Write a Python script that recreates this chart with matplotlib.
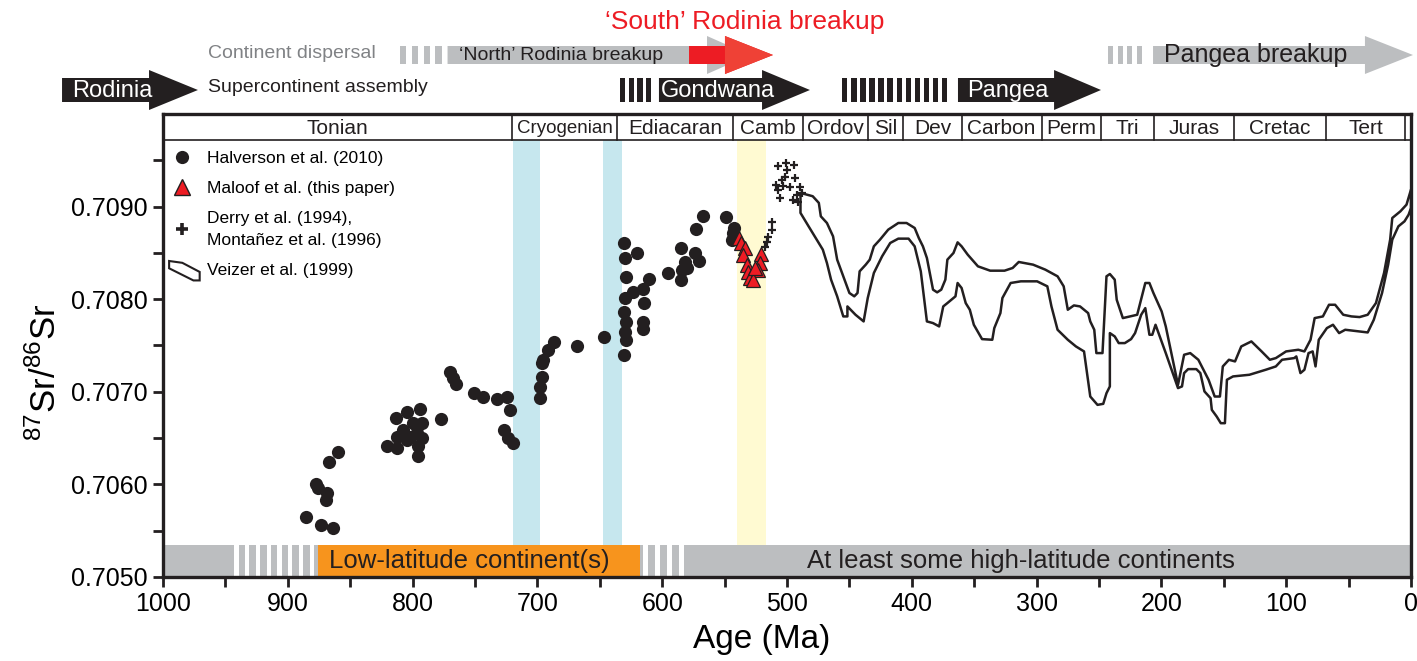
import matplotlib
matplotlib.use("Agg")
import matplotlib.pyplot as plt
import matplotlib.transforms as mtrans
from matplotlib.patches import Polygon, Rectangle
from matplotlib.legend_handler import HandlerPatch
from matplotlib.lines import Line2D
import numpy as np

plt.rcParams["font.family"] = ["Liberation Sans", "DejaVu Sans"]
plt.rcParams["mathtext.fontset"] = "custom"
plt.rcParams["mathtext.rm"] = "Liberation Sans"

# ---- data (Age in Ma, 87Sr/86Sr) ----
halv_age = [885.4, 873.6, 863.5, 877.6, 875.6, 868.3, 869.4, 866.7, 860.0,
            820.8, 812.7, 813.5, 804.7, 794.1, 792.7, 799.4, 807.5, 802.1, 796.7,
            792.7, 795.4, 795.4, 812.7, 804.7, 796.7,
            777.5, 770.0, 767.4, 765.5, 750.8, 743.8, 732.1, 724.6, 721.9, 726.8,
            723.3, 719.8,
            697.9, 697.9, 696.6, 696.6, 695.3, 691.3, 686.7, 668.3, 646.6,
            630.5, 629.8, 629.0, 630.2, 630.8, 629.4, 630.0, 628.8, 630.3,
            620.2, 610.6, 623.1, 615.7, 614.9, 615.7, 615.7,
            595.4, 584.9, 581.7, 584.1, 580.1, 584.9, 573.7, 570.5, 572.9, 567.3,
            548.9, 542.5, 544.1, 543.3]
halv_sr = [0.705645, 0.705562, 0.705526, 0.706005, 0.705959, 0.705905, 0.705832,
           0.706246, 0.706355,
           0.706419, 0.706391, 0.706716, 0.706787, 0.706813, 0.706668, 0.706662,
           0.706589, 0.706517, 0.706554, 0.706499, 0.706416, 0.706311, 0.706517,
           0.706481, 0.706625,
           0.706708, 0.707219, 0.707148, 0.707086, 0.706992, 0.706949, 0.706924,
           0.706949, 0.706805, 0.706589, 0.706499, 0.706445,
           0.706932, 0.707057, 0.707165, 0.707310, 0.707346, 0.707454, 0.707541,
           0.707497, 0.707595,
           0.708611, 0.708449, 0.708243, 0.708016, 0.707865, 0.707757, 0.707649,
           0.707562, 0.707400,
           0.708503, 0.708222, 0.708081, 0.708114, 0.707962, 0.707757, 0.707681,
           0.708286, 0.708557, 0.708405, 0.708319, 0.708341, 0.708211, 0.708503,
           0.708416, 0.708762, 0.708903,
           0.708892, 0.708773, 0.708643, 0.708719]

maloof_age = [538.5, 536.9, 533.7, 535.3, 532.1, 531.3, 529.6, 520.8, 521.6,
              523.2, 527.2, 525.5]
maloof_sr = [0.708665, 0.708610, 0.708557, 0.708481, 0.708373, 0.708297,
             0.708232, 0.708492, 0.708395, 0.708319, 0.708211, 0.708340]

derry_age = [507.2, 500.6, 494.2, 503.8, 501.4, 507.2, 505.4, 497.4, 489.6,
             487.7, 495.0, 490.9, 500.0, 493.6, 503.2, 492.0, 508.8,
             511.8, 511.8, 516.0, 515.0, 517.6]
derry_sr = [0.709443, 0.709476, 0.709454, 0.709292, 0.709324, 0.709184,
            0.709097, 0.709216, 0.709216, 0.709151, 0.709076, 0.709054,
            0.709400, 0.709314, 0.709227, 0.709130, 0.709238,
            0.708838, 0.708751, 0.708622, 0.708676, 0.708568]

# Veizer et al. (1999) envelope
veizer_up_age = [489.2, 479.4, 474.5, 472.9, 468.0, 463.1, 459.8, 454.9, 450.0,
                 446.1, 443.5, 441.8, 436.9, 433.7, 430.4, 425.5, 418.9, 410.8,
                 404.2, 397.7, 394.4, 391.1, 387.9, 383.0, 379.7, 376.4, 373.1,
                 371.5, 366.6, 363.3, 360.1, 355.2, 347.0, 337.2, 325.7, 319.2,
                 314.3, 302.8, 293.0, 283.2, 278.3, 275.0, 270.1, 265.2, 258.7,
                 257.0, 253.8, 252.1, 247.2, 244.0, 241.3, 237.4, 235.8, 230.9,
                 219.4, 212.9, 209.6, 206.4, 199.8, 196.5, 186.7, 181.8, 176.9,
                 170.4, 162.2, 157.3, 153.1, 150.8, 145.9, 141.0, 136.0, 127.9,
                 119.7, 113.1, 108.3, 100.1, 90.3, 85.4, 80.5, 77.2, 70.6, 65.7,
                 60.8, 54.3, 47.7, 41.2, 34.7, 28.1, 21.6, 16.7, 15.0, 8.5, 3.6,
                 0.0]
veizer_up_sr = [0.709148, 0.709112, 0.709040, 0.708895, 0.708823, 0.708679,
                0.708427, 0.708247, 0.708067, 0.708031, 0.708067, 0.708301,
                0.708373, 0.708427, 0.708571, 0.708643, 0.708751, 0.708823,
                0.708823, 0.708769, 0.708661, 0.708571, 0.708445, 0.708103,
                0.708074, 0.708103, 0.708211, 0.708427, 0.708499, 0.708614,
                0.708571, 0.708481, 0.708355, 0.708308, 0.708308, 0.708337,
                0.708402, 0.708373, 0.708319, 0.708247, 0.708139, 0.707886,
                0.707933, 0.707922, 0.707850, 0.707760, 0.707670, 0.707418,
                0.707418, 0.708247, 0.708272, 0.708211, 0.707994, 0.707796,
                0.707832, 0.708175, 0.708175, 0.708067, 0.707868, 0.707706,
                0.707075, 0.707400, 0.707418, 0.707346, 0.707130, 0.706949,
                0.706949, 0.707274, 0.707346, 0.707328, 0.707490, 0.707544,
                0.707436, 0.707346, 0.707364, 0.707436, 0.707454, 0.707436,
                0.707562, 0.707796, 0.707814, 0.707940, 0.707940, 0.707832,
                0.707814, 0.707807, 0.707832, 0.707958, 0.708283, 0.708643,
                0.708877, 0.708949, 0.709021, 0.709184]
veizer_lo_age = [489.2, 482.7, 471.3, 468.0, 464.7, 459.8, 454.9, 451.6, 451.6,
                 445.1, 438.6, 435.3, 430.4, 423.8, 417.3, 410.8, 402.6, 397.7,
                 392.8, 387.9, 383.0, 378.1, 374.8, 371.5, 365.0, 363.3, 360.1,
                 356.8, 353.5, 350.3, 343.7, 335.5, 333.9, 329.0, 327.4, 320.8,
                 312.6, 299.6, 291.4, 288.1, 283.2, 275.0, 268.5, 262.0, 257.0,
                 251.2, 246.6, 244.0, 241.3, 241.3, 237.4, 234.2, 229.3, 224.3,
                 221.1, 216.2, 212.9, 209.6, 207.3, 204.7, 196.5, 186.7, 183.5,
                 181.8, 178.6, 172.0, 168.8, 165.5, 160.6, 159.6, 155.7, 152.4,
                 149.1, 147.5, 142.6, 129.5, 116.4, 108.3, 103.3, 93.6, 91.9,
                 88.6, 85.4, 82.1, 78.8, 76.5, 73.9, 67.4, 62.5, 57.6, 52.7, 34.7,
                 29.8, 23.2, 18.3, 15.0, 10.1, 5.2, 1.9, 0.0]
veizer_lo_sr = [0.708932, 0.708787, 0.708535, 0.708391, 0.708211, 0.708031,
                0.707814, 0.707814, 0.707922, 0.707832, 0.707760, 0.708013,
                0.708283, 0.708463, 0.708607, 0.708654, 0.708654, 0.708571,
                0.708301, 0.707760, 0.707742, 0.707706, 0.707922, 0.707958,
                0.708031, 0.708175, 0.708121, 0.707958, 0.707886, 0.707724,
                0.707569, 0.707562, 0.707688, 0.707850, 0.708013, 0.708175,
                0.708193, 0.708193, 0.708139, 0.707922, 0.707670, 0.707562,
                0.707490, 0.707436, 0.706949, 0.706859, 0.706870, 0.706985,
                0.707058, 0.707634, 0.707598, 0.707526, 0.707526, 0.707569,
                0.707634, 0.707832, 0.707904, 0.707616, 0.707616, 0.707724,
                0.707418, 0.707040, 0.707058, 0.707202, 0.707245, 0.707245,
                0.707202, 0.707004, 0.706931, 0.706805, 0.706733, 0.706661,
                0.706661, 0.707130, 0.707166, 0.707184, 0.707238, 0.707274,
                0.707346, 0.707364, 0.707382, 0.707202, 0.707238, 0.707418,
                0.707436, 0.707274, 0.707562, 0.707688, 0.707724, 0.707634,
                0.707670, 0.707641, 0.707778, 0.708067, 0.708373, 0.708643,
                0.708787, 0.708841, 0.708913, 0.708985]

# geological periods (boundaries in Ma) for the top band
period_edges = [1000, 720, 636, 543, 487, 435, 407, 360, 296, 248, 206, 142, 68, 5, 0]
period_names = ["Tonian", "Cryogenian", "Ediacaran", "Camb", "Ordov", "Sil", "Dev",
                "Carbon", "Perm", "Tri", "Juras", "Cretac", "Tert", ""]

glaciations = [(719.6, 697.9), (647.4, 632.2)]
cambrian_window = (540.1, 516.8)

# paleolatitude bar along the bottom
lowlat_hatch = [(945, 876, 8), (618, 579, 4)]
lowlat_span = (876, 618)

BLACK = "#231f20"
GRAY = "#bcbec0"
DGRAY = "#808285"
ORANGE = "#f7941d"
RED = "#ed1c24"
LRED = "#ef4136"
BLUE = "#c6e7ee"
YELLOW = "#fffad2"

W, H = 1417, 661
fig = plt.figure(figsize=(W / 100, H / 100), dpi=100)
ax_l, ax_b, ax_w, ax_h = 163 / W, 84 / H, 1248 / W, 463 / H
ax = fig.add_axes([ax_l, ax_b, ax_w, ax_h])
ax.set_xlim(1000, 0)
ax.set_ylim(0.7050, 0.7100)

band_y0 = 0.944   # period band bottom (axes fraction)
bar_y1 = 0.069    # latitude bar top (axes fraction)
tr = mtrans.blended_transform_factory(ax.transData, ax.transAxes)

for a0, a1 in glaciations:
    ax.axvspan(a0, a1, ymin=bar_y1, ymax=band_y0, color=BLUE, lw=0, zorder=0)
ax.axvspan(*cambrian_window, ymin=bar_y1, ymax=band_y0, color=YELLOW, lw=0, zorder=0)

# Veizer envelope
env = np.column_stack([veizer_up_age + veizer_lo_age[::-1],
                       veizer_up_sr + veizer_lo_sr[::-1]])
ax.add_patch(Polygon(env, closed=True, fill=False, ec=BLACK, lw=1.8,
                     joinstyle="round", zorder=2))

ax.plot(halv_age, halv_sr, "o", color=BLACK, ms=9.5, mec="none", zorder=3)
ax.plot(derry_age, derry_sr, "+", color=BLACK, ms=5.5, mew=1.6, zorder=3)
ax.plot(maloof_age, maloof_sr, "^", mfc=RED, mec=BLACK, mew=0.9, ms=10, zorder=4)

# period band
ax.add_patch(Rectangle((0, band_y0), 1, 1 - band_y0, transform=ax.transAxes,
                       fc="white", ec="none", zorder=5))
ax.plot([0, 1], [band_y0, band_y0], transform=ax.transAxes, color=BLACK, lw=1.2, zorder=6)
for e in period_edges[1:-1]:
    ax.plot([e, e], [band_y0, 1], transform=tr, color=BLACK, lw=1.2, zorder=6)
for a0, a1, name in zip(period_edges[:-1], period_edges[1:], period_names):
    ax.text((a0 + a1) / 2, (band_y0 + 1) / 2 - 0.003, name, transform=tr,
            ha="center", va="center", fontsize=15 if len(name) < 10 else 13.5,
            color=BLACK, zorder=7)

# latitude bar
ax.add_patch(Rectangle((1000, 0), -1000, bar_y1, transform=tr, fc=GRAY, ec="none", zorder=5))
for a0, a1, n in lowlat_hatch:
    edges = np.linspace(a0, a1, n + 1)
    for e0, e1 in zip(edges[:-1], edges[1:]):
        ax.add_patch(Rectangle((e0 + (e1 - e0) * 0.25, 0), (e1 - e0) * 0.4, bar_y1,
                               transform=tr, fc="white", ec="none", zorder=6))
ax.add_patch(Rectangle((lowlat_span[0], 0), lowlat_span[1] - lowlat_span[0], bar_y1,
                       transform=tr, fc=ORANGE, ec="none", zorder=6))
ax.text(867, bar_y1 / 2, "Low-latitude continent(s)", transform=tr, ha="left",
        va="center", fontsize=18.5, color=BLACK, zorder=7)
ax.text(484, bar_y1 / 2, "At least some high-latitude continents", transform=tr,
        ha="left", va="center", fontsize=18.5, color=BLACK, zorder=7)

# axes styling
for s in ax.spines.values():
    s.set_linewidth(2.4)
    s.set_color(BLACK)
    s.set_zorder(8)
ax.set_xticks(np.arange(1000, -1, -100))
ax.set_xticks(np.arange(950, 0, -100), minor=True)
ax.set_yticks(np.arange(0.7050, 0.70901, 0.0010))
ax.set_yticks(np.arange(0.7055, 0.70960, 0.0010), minor=True)
ax.set_yticklabels([f"{v:.4f}" for v in np.arange(0.7050, 0.70901, 0.0010)])
ax.tick_params(which="both", direction="out", length=7, width=2, color=BLACK,
               labelsize=18, pad=4)
ax.set_xlabel("Age (Ma)", fontsize=24)
ax.set_ylabel(r"$^{87}$Sr/$^{86}$Sr", fontsize=25)
ax.xaxis.set_label_coords(0.48, -0.102)
ax.yaxis.set_label_coords(-0.08, 0.443)


def veizer_icon(legend, orig_handle, xdescent, ydescent, width, height, fontsize):
    pts = np.array([[0.12, 1.15], [0.5, 1.0], [1.0, 0.25], [1.0, -0.45],
                    [0.82, -0.45], [0.12, 0.55]]) * [width, height]
    return Polygon(pts - [xdescent, ydescent], closed=True)


handles = [Line2D([], [], marker="o", ls="", color=BLACK, ms=9.5, mec="none"),
           Line2D([], [], marker="^", ls="", mfc=RED, mec=BLACK, ms=11),
           Line2D([], [], marker="+", ls="", color=BLACK, ms=9, mew=2.6),
           Polygon([[0, 0], [1, 1], [1, 0]], fc="white", ec=BLACK, lw=1.5)]
labels = ["Halverson et al. (2010)", "Maloof et al. (this paper)",
          "Derry et al. (1994),\nMontañez et al. (1996)", "Veizer et al. (1999)"]
leg = ax.legend(handles, labels, loc="upper left", bbox_to_anchor=(-0.004, 0.935),
                frameon=False, fontsize=12.5, handlelength=2.0, handletextpad=0.4,
                labelspacing=0.85, borderaxespad=0.0,
                handler_map={Polygon: HandlerPatch(patch_func=veizer_icon)})
for t in leg.get_texts():
    t.set_linespacing(1.6)
leg.set_zorder(9)

# ---- tectonic arrows above the plot (x in Ma, y in px above the axes) ----
top_h = H - (ax_b + ax_h) * H
top = fig.add_axes([0, ax_b + ax_h, 1, 1 - ax_b - ax_h])
per = 1000 / ax_w
top.set_xlim(1000 + ax_l * per, -(1 - ax_l - ax_w) * per)
top.set_ylim(0, top_h)
top.axis("off")


def arrow(x0, xh, x1, yc, h, hh, color):
    top.add_patch(Polygon([[x0, yc - h], [xh, yc - h], [xh, yc - hh], [x1, yc],
                           [xh, yc + hh], [xh, yc + h], [x0, yc + h]],
                          closed=True, fc=color, ec="none"))


def stripes(x0, x1, n, yc, h, color, duty=0.55):
    edges = np.linspace(x0, x1, n + 1)
    for e0, e1 in zip(edges[:-1], edges[1:]):
        top.add_patch(Rectangle((e0, yc - h), (e1 - e0) * duty, 2 * h, fc=color, ec="none"))


r_gray, r_black = 59, 24
arrow(1080.9, 1011.2, 972.0, r_black, 12, 20, BLACK)
top.text(1040.5, r_black - 1, "Rodinia", color="white", fontsize=17, ha="center", va="center")
top.text(964.3, r_black + 3, "Supercontinent assembly", color=BLACK, fontsize=14,
         ha="left", va="center")
top.text(964.3, r_gray + 2, "Continent dispersal", color=DGRAY, fontsize=14,
         ha="left", va="center")

stripes(810.1, 772.4, 4, r_gray, 9, GRAY)
arrow(772.0, 564.1, 529.6, r_gray, 9, 19, GRAY)
arrow(578.5, 549.7, 511.2, r_gray, 9, 19, RED)
top.add_patch(Polygon([[549.7, r_gray - 19], [511.2, r_gray], [549.7, r_gray + 19]],
                      fc=LRED, ec="none"))
top.text(762.8, r_gray, "\u2018North\u2019 Rodinia breakup", color=BLACK, fontsize=14,
         ha="left", va="center")
top.text(534.0, 92, "\u2018South\u2019 Rodinia breakup", color=RED, fontsize=19,
         ha="center", va="center")

stripes(633.8, 605.8, 4, r_black, 12, BLACK, 0.6)
arrow(602.6, 520.0, 481.6, r_black, 12, 20, BLACK)
top.text(601.0, r_black - 1, "Gondwana", color="white", fontsize=17, ha="left", va="center")

stripes(455.9, 368.6, 12, r_black, 12, BLACK, 0.6)
arrow(363.0, 286.0, 248.4, r_black, 12, 20, BLACK)
top.text(355.4, r_black - 1, "Pangea", color="white", fontsize=17, ha="left", va="center")

stripes(242.8, 212.3, 4, r_gray, 9, GRAY)
arrow(206.7, 36.9, -1.6, r_gray, 9, 19, GRAY)
top.text(197.9, r_gray, "Pangea breakup", color=BLACK, fontsize=18, ha="left", va="center")

fig.savefig("out.png", dpi=100)
